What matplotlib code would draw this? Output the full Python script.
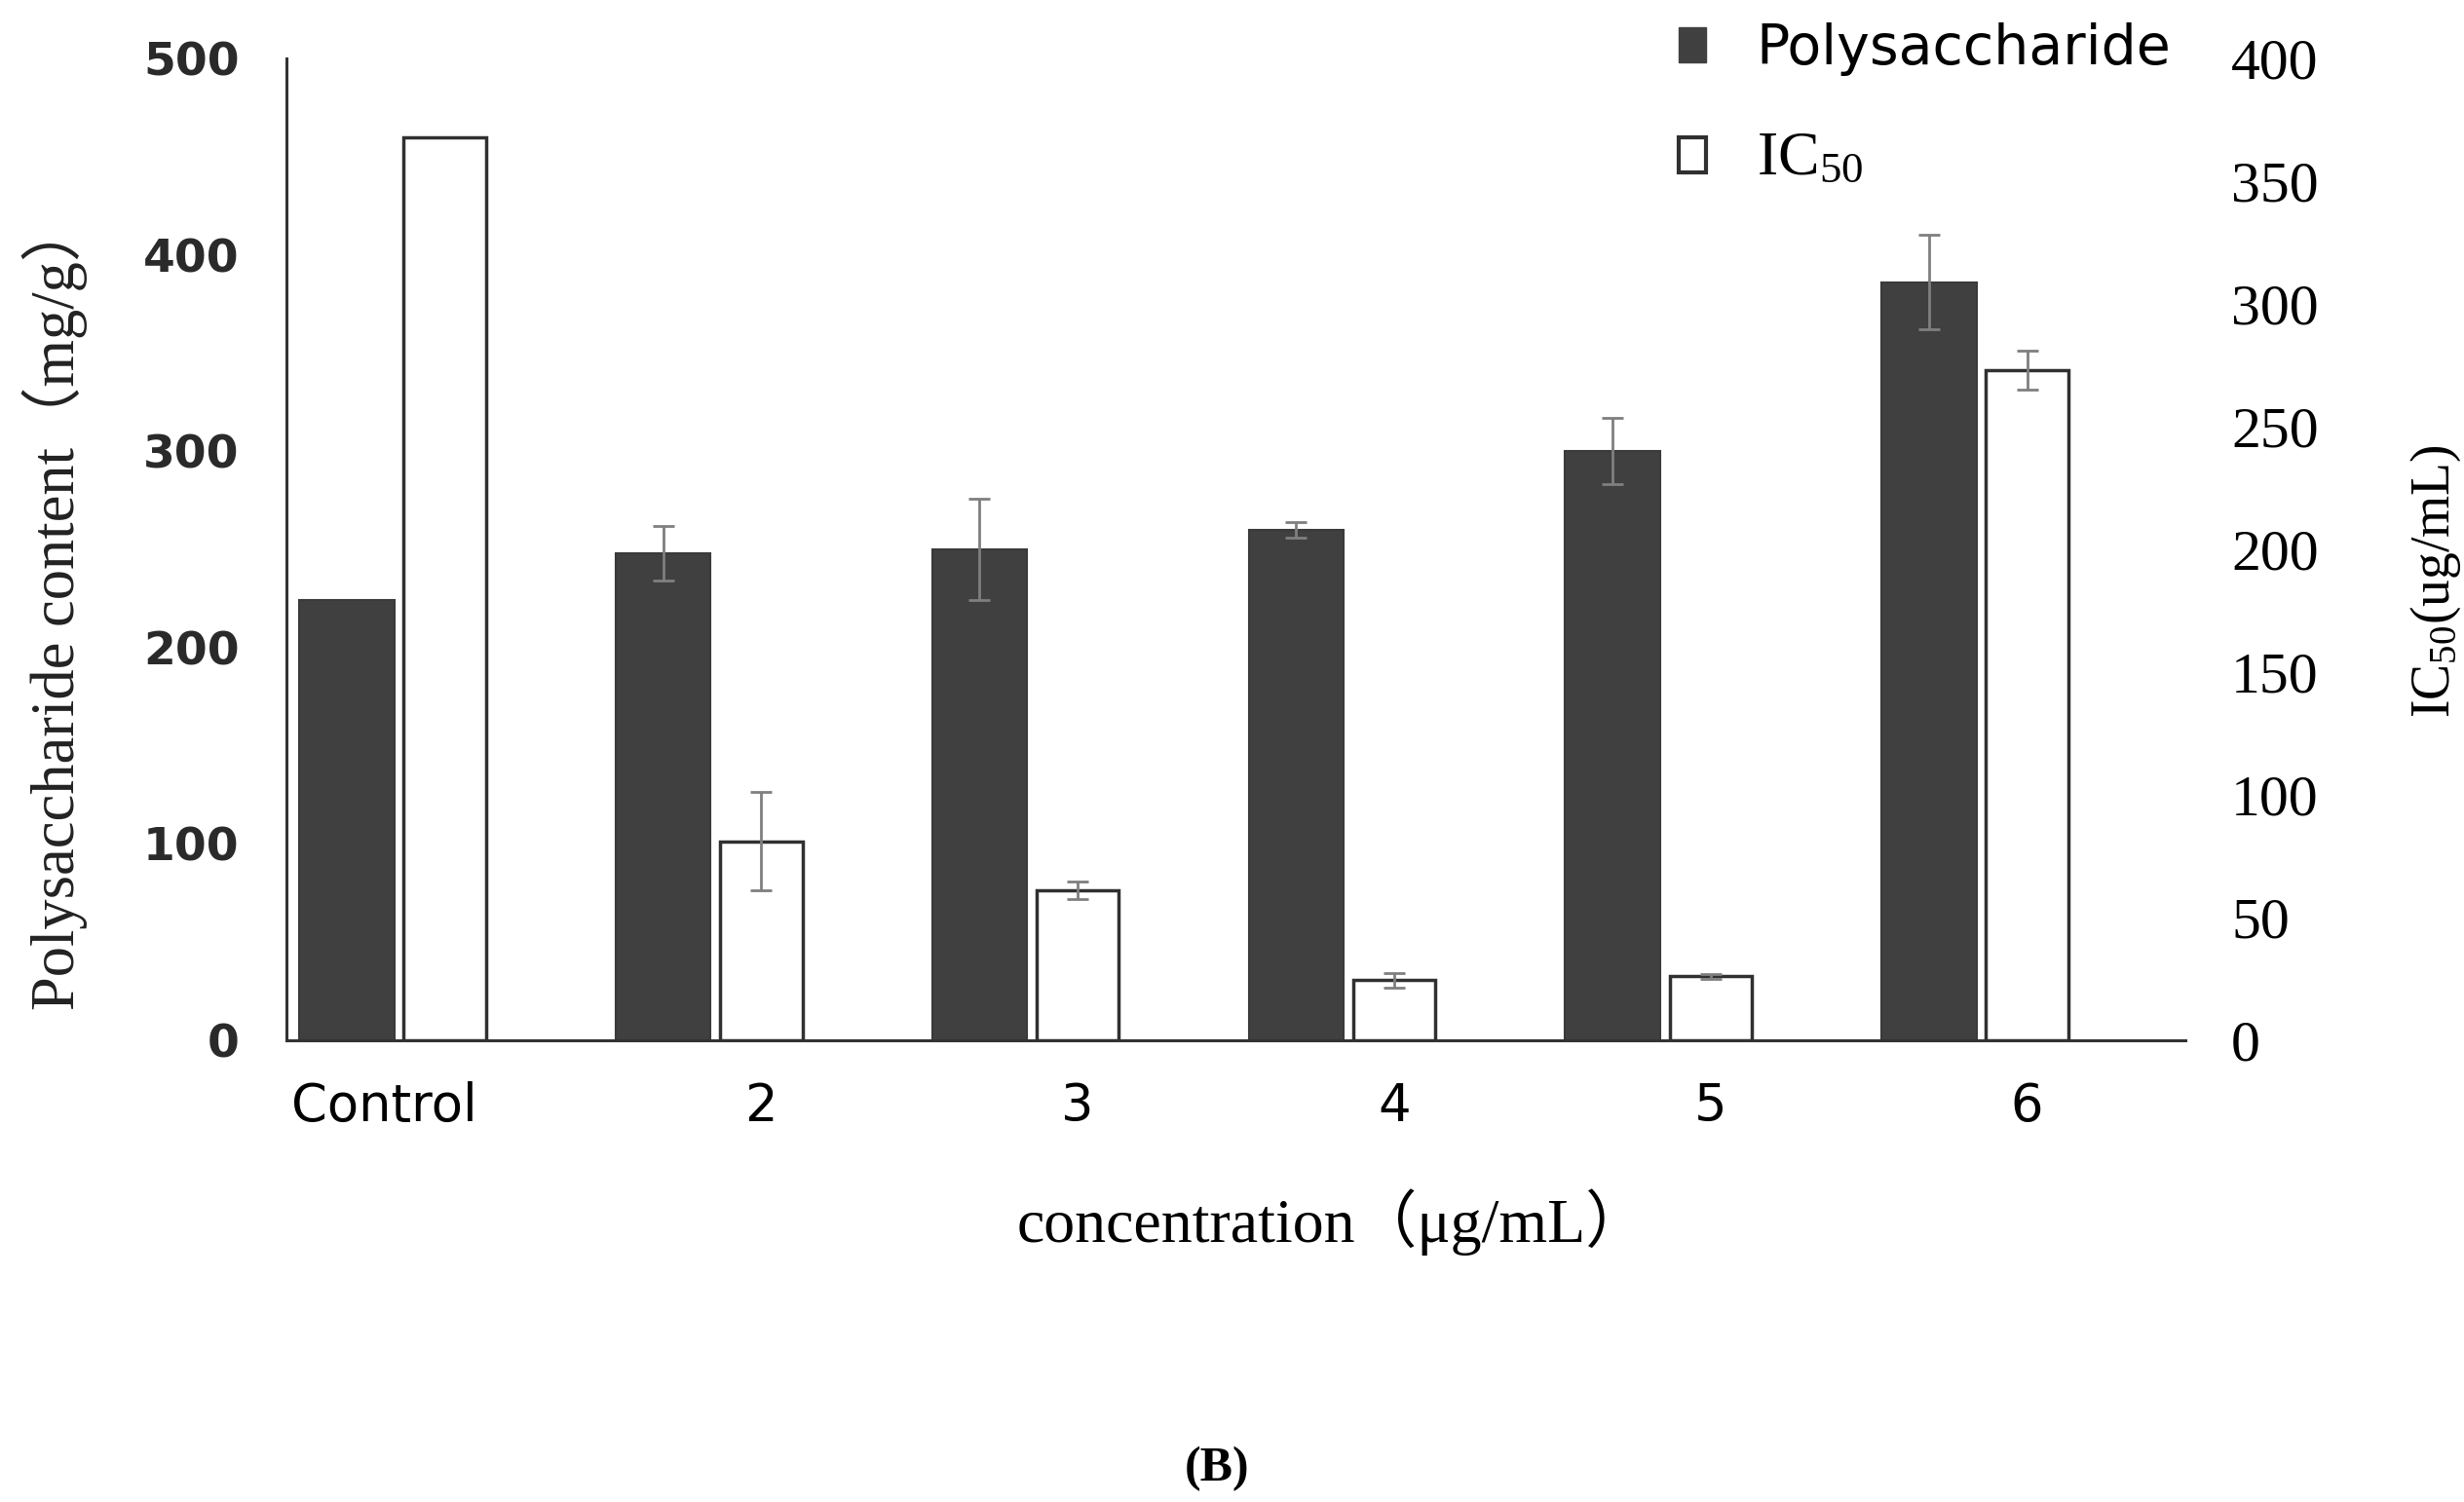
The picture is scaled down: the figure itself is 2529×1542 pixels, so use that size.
#Polysaccharide content and IC50 vs concentration, two y axes
import numpy as np
import matplotlib
matplotlib.use('Agg')
import matplotlib.pyplot as plt
import matplotlib.transforms as mtransforms
from matplotlib.patches import Patch

plt.rcParams['mathtext.fontset'] = 'custom'
plt.rcParams['mathtext.rm'] = 'Liberation Serif'
plt.rcParams['mathtext.default'] = 'regular'

categories = ['Control', '2', '3', '4', '5', '6']
poly = [224, 248, 250, 260, 300, 386]          # mg/g, left axis
poly_err = [0, 14, 26, 4, 17, 24]
ic50 = [368, 81, 61, 24.5, 26, 273]            # ug/mL, right axis
ic50_err = [0, 20, 3.5, 3, 1, 8]

serif = ['Liberation Serif', 'Noto Sans CJK SC']

x = np.arange(len(categories))
poly = np.array(poly); poly_err = np.array(poly_err)
ic50 = np.array(ic50); ic50_err = np.array(ic50_err)
m1 = poly_err > 0   # control has no error bar
m2 = ic50_err > 0
ekw = dict(fmt='none', ecolor='#7f7f7f', elinewidth=2, capsize=8, capthick=2, zorder=3)

fig = plt.figure(figsize=(25.29, 15.42), dpi=100)
ax = fig.add_axes([0.1163, 0.3074, 0.7706, 0.6537])
ax2 = ax.twinx()

ax.bar(x - 0.31, poly, width=0.30, color='#404040', edgecolor='#3a3a3a', linewidth=1.5, zorder=2)
ax.errorbar(x[m1] - 0.31, poly[m1], yerr=poly_err[m1], **ekw)
ax2.bar(x, ic50, width=0.26, color='white', edgecolor='#303030', linewidth=2.5, zorder=2)
ax2.errorbar(x[m2], ic50[m2], yerr=ic50_err[m2], **ekw)

ax.set_xlim(-0.5, 5.5)
ax.set_ylim(0, 500)
ax2.set_ylim(0, 400)
ax.set_yticks(np.arange(0, 501, 100))
ax2.set_yticks(np.arange(0, 401, 50))
ax.set_xticks(x)
ax.set_xticklabels(categories)

for s in ['top', 'right']:
    ax.spines[s].set_visible(False)
for s in ['top', 'right', 'left', 'bottom']:
    ax2.spines[s].set_visible(False)
ax.spines['left'].set_color('#333333')
ax.spines['bottom'].set_color('#333333')
ax.spines['left'].set_linewidth(2.2)
ax.spines['bottom'].set_linewidth(2.2)

ax.tick_params(axis='y', length=0, pad=35, labelsize=34)
for t in ax.get_yticklabels():
    t.set_fontweight('bold')
    t.set_color('#2a2a2a')
ax.tick_params(axis='x', length=0, pad=30, labelsize=38)
# "Control" sits a bit left of its group in the original
lab0 = ax.get_xticklabels()[0]
lab0.set_transform(lab0.get_transform() + mtransforms.ScaledTranslation(-0.62, 0, fig.dpi_scale_trans))
ax2.tick_params(axis='y', length=0, pad=34, labelsize=43)
for t in ax2.get_yticklabels():
    t.set_family(serif)

fig.text(56/2529, 1 - 621/1542, 'Polysaccharide content（mg/g）', rotation=90,
         ha='center', va='center', fontsize=45, family=serif, color='#222222')
fig.text(2500/2529, 1 - 597/1542, 'IC$_{50}$(ug/mL)', rotation=90,
         ha='center', va='center', fontsize=40, family=serif)
fig.text(1368/2529, 1 - 1255/1542, 'concentration（μg/mL）',
         ha='center', va='center', fontsize=46, family=serif)
fig.text(1249/2529, 1 - 1508/1542, '(B)',
         ha='center', va='center', fontsize=36, family=serif, fontweight='bold')

handles = [Patch(facecolor='#404040', edgecolor='#404040'),
           Patch(facecolor='white', edgecolor='#303030', linewidth=3)]
leg = fig.legend(handles, ['Polysaccharide', 'IC$_{50}$'], loc='upper left',
                 bbox_to_anchor=(1723/2529, 0.985), frameon=False, fontsize=41,
                 handlelength=0.5, handleheight=0.6, handletextpad=0.9,
                 labelspacing=1.0, borderpad=0, borderaxespad=0)
leg.get_texts()[1].set_family(serif)
leg.get_texts()[1].set_fontsize(46)

plt.savefig('out.png', dpi=100)
